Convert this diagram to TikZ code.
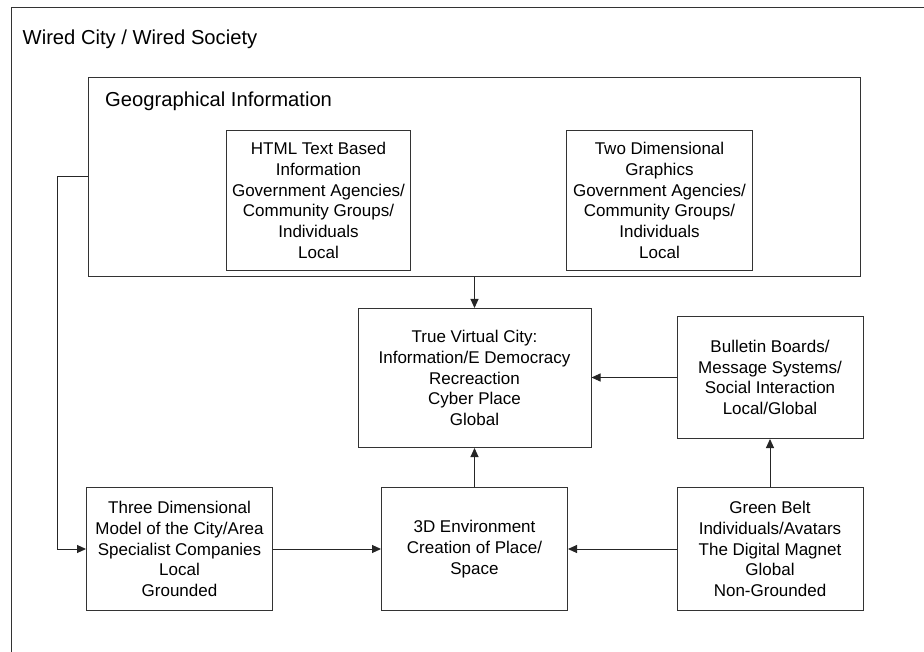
\documentclass[tikz,border=0pt]{standalone}
\usepackage{fontspec}
\setmainfont{Liberation Sans}
\usetikzlibrary{arrows.meta, positioning}

\begin{document}
\begin{tikzpicture}[
    x=1pt, y=-1pt,
    edge/.style={-{Triangle[length=9pt, width=8pt]}, line width=1pt, black!85},
    frame/.style={draw=black!80, line width=1pt},
    blk/.style={rectangle, draw=black!80, line width=1pt, minimum height=123pt, minimum width=186pt, inner sep=0pt, align=center, font=\fontsize{17}{20.7}\selectfont},
    heading/.style={anchor=base west, inner sep=0pt, font=\fontsize{20.2}{24}\selectfont}
]
    \useasboundingbox (0,0) rectangle (924,652);
    \draw[frame] (11,652) -- (11,8) -- (924,8);
    \node[heading] (wired) at (22.5,45) {Wired City / Wired Society};

    % middle row
    \node[blk, minimum width=233pt, minimum height=139pt] (tvc) at (474.5,378) {True Virtual City:\\Information/E Democracy\\Recreaction\\Cyber Place\\Global};
    \node[blk, minimum width=772pt, minimum height=199pt, above=31pt of tvc] (geo) {};
    \node[heading] (geolbl) at (105,107) {Geographical Information};
    \node[blk, minimum width=184pt, minimum height=140pt, below right=53pt and 138pt of geo.north west] (html) {HTML Text Based\\Information\\Government Agencies/\\Community Groups/\\Individuals\\Local};
    \node[blk, minimum width=186pt, minimum height=140pt, below left=53pt and 108pt of geo.north east] (twod) {Two Dimensional\\Graphics\\Government Agencies/\\Community Groups/\\Individuals\\Local};

    % bottom row
    \node[blk, below=39pt of tvc] (env) {3D Environment\\Creation of Place/\\Space};
    \node[blk, left=108pt of env] (model) {Three Dimensional\\Model of the City/Area\\Specialist Companies\\Local\\Grounded};
    \node[blk, right=108.5pt of env] (green) {Green Belt\\Individuals/Avatars\\The Digital Magnet\\Global\\Non-Grounded};
    \node[blk, minimum height=122pt, above=48pt of green] (bbs) {Bulletin Boards/\\Message Systems/\\Social Interaction\\Local/Global};

    \draw[edge] (geo) -- (tvc);
    \draw[edge] (env) -- (tvc);
    \draw[edge] (bbs.west) -- (bbs.west -| tvc.east);
    \draw[edge] (green) -- (bbs);
    \foreach \n in {model,green} {
        \draw[edge] (\n) -- (env);
    }
    \draw[edge] (geo.west) -- ++(-31pt,0) |- (model.west);
\end{tikzpicture}
\end{document}
